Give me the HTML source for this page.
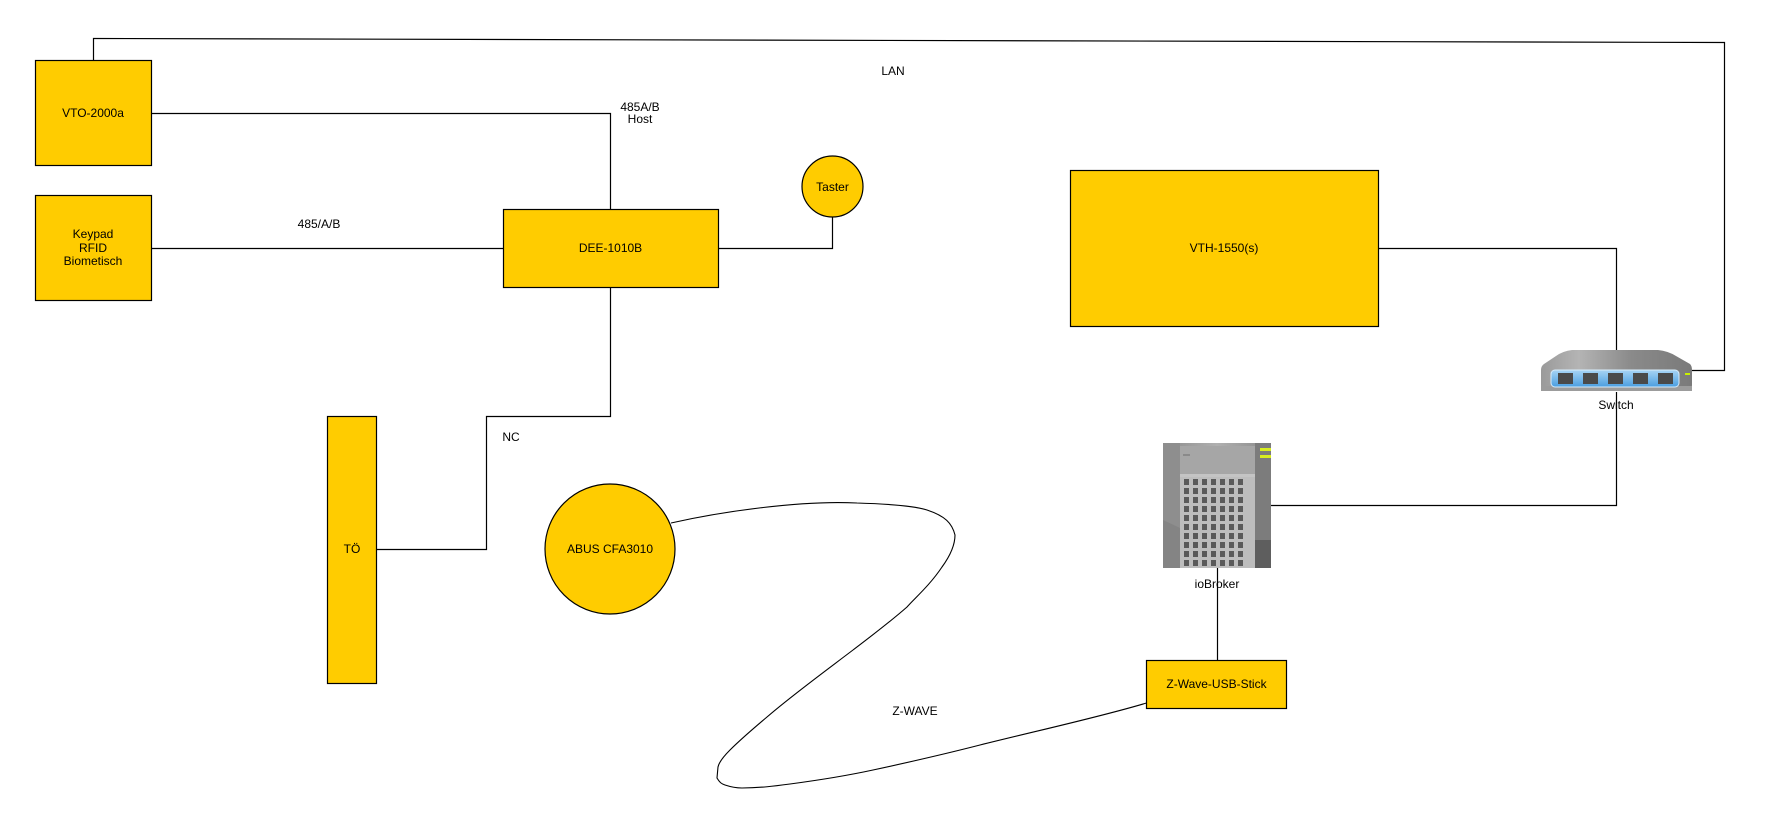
<!DOCTYPE html>
<html>
<head>
<meta charset="utf-8">
<style>
html,body{margin:0;padding:0;background:#fff;}
svg{display:block;}
text{font-family:"Liberation Sans",sans-serif;font-size:12px;fill:#000;text-anchor:middle;}
</style>
</head>
<body>
<svg width="1778" height="837" viewBox="0 0 1778 837" xmlns="http://www.w3.org/2000/svg">
<defs>
  <linearGradient id="swTop" x1="0" y1="0" x2="1" y2="0">
    <stop offset="0" stop-color="#9a9a9a"/>
    <stop offset="0.25" stop-color="#b4b4b4"/>
    <stop offset="0.6" stop-color="#8a8a8a"/>
    <stop offset="1" stop-color="#7a7a7a"/>
  </linearGradient>
  <linearGradient id="swPanel" x1="0" y1="0" x2="0" y2="1">
    <stop offset="0" stop-color="#a8d4f4"/>
    <stop offset="1" stop-color="#4a9ee0"/>
  </linearGradient>
  <linearGradient id="srv" x1="0" y1="0" x2="1" y2="0">
    <stop offset="0" stop-color="#8c8c8c"/>
    <stop offset="0.5" stop-color="#b0b0b0"/>
    <stop offset="1" stop-color="#8a8a8a"/>
  </linearGradient>
</defs>

<!-- connectors -->
<g fill="none" stroke="#000" stroke-width="1.2">
  <path d="M93.5 60 V38.5 L1724.5 42.5 V370.5 H1691"/>
  <path d="M151.5 113.5 H610.5 V209.5"/>
  <path d="M151.5 248.5 H503.5"/>
  <path d="M718.5 248.5 H832.5 V217"/>
  <path d="M610.5 287.5 V416.5 H486.5 V549.5 H376.5"/>
  <path d="M1378.5 248.5 H1616.5 V350"/>
  <path d="M1271 505.5 H1616.5 V392"/>
  <path d="M1217.5 566 V660.5"/>
  <path stroke-width="1.1" d="M671 523 C720 512 800 500 857 503 C890 504 915 506 927 510 C945 516 952 523 955 535 C955 545 950 556 942 567 C930 585 915 598 907 607 C890 622 870 637 853 650 C820 675 790 697 767 717 C748 733 738 742 730 750 C723 757 719 762 718 767 L717 778 C720 783 722 784 725 785 C731 787 736 788 742 788 C760 788 775 786 790 784 C820 780 850 775 873 770 C910 762 945 754 980 745 C1040 730 1100 717 1146.5 703"/>
</g>

<!-- boxes -->
<g fill="#ffcc00" stroke="#000" stroke-width="1.2">
  <rect x="35.5" y="60.5" width="116" height="105"/>
  <rect x="35.5" y="195.5" width="116" height="105"/>
  <rect x="503.5" y="209.5" width="215" height="78"/>
  <rect x="1070.5" y="170.5" width="308" height="156"/>
  <rect x="327.5" y="416.5" width="49" height="267"/>
  <rect x="1146.5" y="660.5" width="140" height="48"/>
  <circle cx="832.5" cy="186.5" r="30.5"/>
  <circle cx="610" cy="549" r="65"/>
</g>

<!-- switch icon -->
<g>
  <path d="M1572 350 H1658 Q1668 351 1676 356 L1690 364 Q1692 366 1692 370 V385 Q1692 391 1686 391 H1546 Q1541 391 1541 385 V370 Q1541 366 1544 364 L1556 356 Q1563 351 1572 350 Z" fill="url(#swTop)"/>
  <rect x="1541" y="386" width="151" height="5" fill="#9c9c9c"/>
  <rect x="1551" y="370" width="128" height="17" rx="4" fill="url(#swPanel)" stroke="#d8ecfa" stroke-width="1"/>
  <g fill="#4a4a4a">
    <rect x="1558" y="373" width="15" height="11"/>
    <rect x="1583" y="373" width="15" height="11"/>
    <rect x="1608" y="373" width="15" height="11"/>
    <rect x="1633" y="373" width="15" height="11"/>
    <rect x="1658" y="373" width="15" height="11"/>
  </g>
  <rect x="1685" y="373" width="5" height="2" fill="#c8f000"/>
</g>

<!-- server icon -->
<g>
  <rect x="1163" y="443" width="108" height="125" fill="url(#srv)"/>
  <rect x="1163" y="443" width="17" height="125" fill="#8e8e8e"/>
  <rect x="1255" y="443" width="16" height="125" fill="#7c7c7c"/>
  <rect x="1255" y="540" width="16" height="28" fill="#5e5e5e"/>
  <rect x="1180" y="446" width="75" height="28" fill="#a6a6a6"/>
  <rect x="1183" y="454" width="7" height="2" fill="#8a8a8a"/>
  <rect x="1180" y="474" width="75" height="3" fill="#c4c4c4"/>
  <rect x="1180" y="477" width="75" height="91" fill="#bdbdbd"/>
  <rect x="1260" y="448" width="11" height="3" fill="#d8ee20"/>
  <rect x="1260" y="455" width="11" height="3" fill="#d8ee20"/>
  <g fill="#5a5a5a" id="grid">
    <rect x="1184" y="479" width="5" height="6"/><rect x="1193" y="479" width="5" height="6"/><rect x="1202" y="479" width="5" height="6"/><rect x="1211" y="479" width="5" height="6"/><rect x="1220" y="479" width="5" height="6"/><rect x="1229" y="479" width="5" height="6"/><rect x="1238" y="479" width="5" height="6"/>
    <rect x="1184" y="488" width="5" height="6"/><rect x="1193" y="488" width="5" height="6"/><rect x="1202" y="488" width="5" height="6"/><rect x="1211" y="488" width="5" height="6"/><rect x="1220" y="488" width="5" height="6"/><rect x="1229" y="488" width="5" height="6"/><rect x="1238" y="488" width="5" height="6"/>
    <rect x="1184" y="497" width="5" height="6"/><rect x="1193" y="497" width="5" height="6"/><rect x="1202" y="497" width="5" height="6"/><rect x="1211" y="497" width="5" height="6"/><rect x="1220" y="497" width="5" height="6"/><rect x="1229" y="497" width="5" height="6"/><rect x="1238" y="497" width="5" height="6"/>
    <rect x="1184" y="506" width="5" height="6"/><rect x="1193" y="506" width="5" height="6"/><rect x="1202" y="506" width="5" height="6"/><rect x="1211" y="506" width="5" height="6"/><rect x="1220" y="506" width="5" height="6"/><rect x="1229" y="506" width="5" height="6"/><rect x="1238" y="506" width="5" height="6"/>
    <rect x="1184" y="515" width="5" height="6"/><rect x="1193" y="515" width="5" height="6"/><rect x="1202" y="515" width="5" height="6"/><rect x="1211" y="515" width="5" height="6"/><rect x="1220" y="515" width="5" height="6"/><rect x="1229" y="515" width="5" height="6"/><rect x="1238" y="515" width="5" height="6"/>
    <rect x="1184" y="524" width="5" height="6"/><rect x="1193" y="524" width="5" height="6"/><rect x="1202" y="524" width="5" height="6"/><rect x="1211" y="524" width="5" height="6"/><rect x="1220" y="524" width="5" height="6"/><rect x="1229" y="524" width="5" height="6"/><rect x="1238" y="524" width="5" height="6"/>
    <rect x="1184" y="533" width="5" height="6"/><rect x="1193" y="533" width="5" height="6"/><rect x="1202" y="533" width="5" height="6"/><rect x="1211" y="533" width="5" height="6"/><rect x="1220" y="533" width="5" height="6"/><rect x="1229" y="533" width="5" height="6"/><rect x="1238" y="533" width="5" height="6"/>
    <rect x="1184" y="542" width="5" height="6"/><rect x="1193" y="542" width="5" height="6"/><rect x="1202" y="542" width="5" height="6"/><rect x="1211" y="542" width="5" height="6"/><rect x="1220" y="542" width="5" height="6"/><rect x="1229" y="542" width="5" height="6"/><rect x="1238" y="542" width="5" height="6"/>
    <rect x="1184" y="551" width="5" height="6"/><rect x="1193" y="551" width="5" height="6"/><rect x="1202" y="551" width="5" height="6"/><rect x="1211" y="551" width="5" height="6"/><rect x="1220" y="551" width="5" height="6"/><rect x="1229" y="551" width="5" height="6"/><rect x="1238" y="551" width="5" height="6"/>
    <rect x="1184" y="560" width="5" height="6"/><rect x="1193" y="560" width="5" height="6"/><rect x="1202" y="560" width="5" height="6"/><rect x="1211" y="560" width="5" height="6"/><rect x="1220" y="560" width="5" height="6"/><rect x="1229" y="560" width="5" height="6"/><rect x="1238" y="560" width="5" height="6"/>
  </g>
  <path d="M1163 520 L1180 528 V568 H1163 Z" fill="#7a7a7a" opacity="0.5"/>
</g>

<!-- labels -->
<text x="93" y="117">VTO-2000a</text>
<text x="93" y="238">Keypad</text>
<text x="93" y="252">RFID</text>
<text x="93" y="265">Biometisch</text>
<text x="319" y="228">485/A/B</text>
<text x="640" y="111">485A/B</text>
<text x="640" y="123">Host</text>
<text x="610.5" y="252">DEE-1010B</text>
<text x="832.5" y="191">Taster</text>
<text x="893" y="75">LAN</text>
<text x="1224" y="252">VTH-1550(s)</text>
<text x="1616" y="409">Switch</text>
<text x="511" y="441">NC</text>
<text x="352" y="553">TÖ</text>
<text x="610" y="553">ABUS CFA3010</text>
<text x="1217" y="588">ioBroker</text>
<text x="915" y="715">Z-WAVE</text>
<text x="1216.5" y="688">Z-Wave-USB-Stick</text>
</svg>
</body>
</html>
